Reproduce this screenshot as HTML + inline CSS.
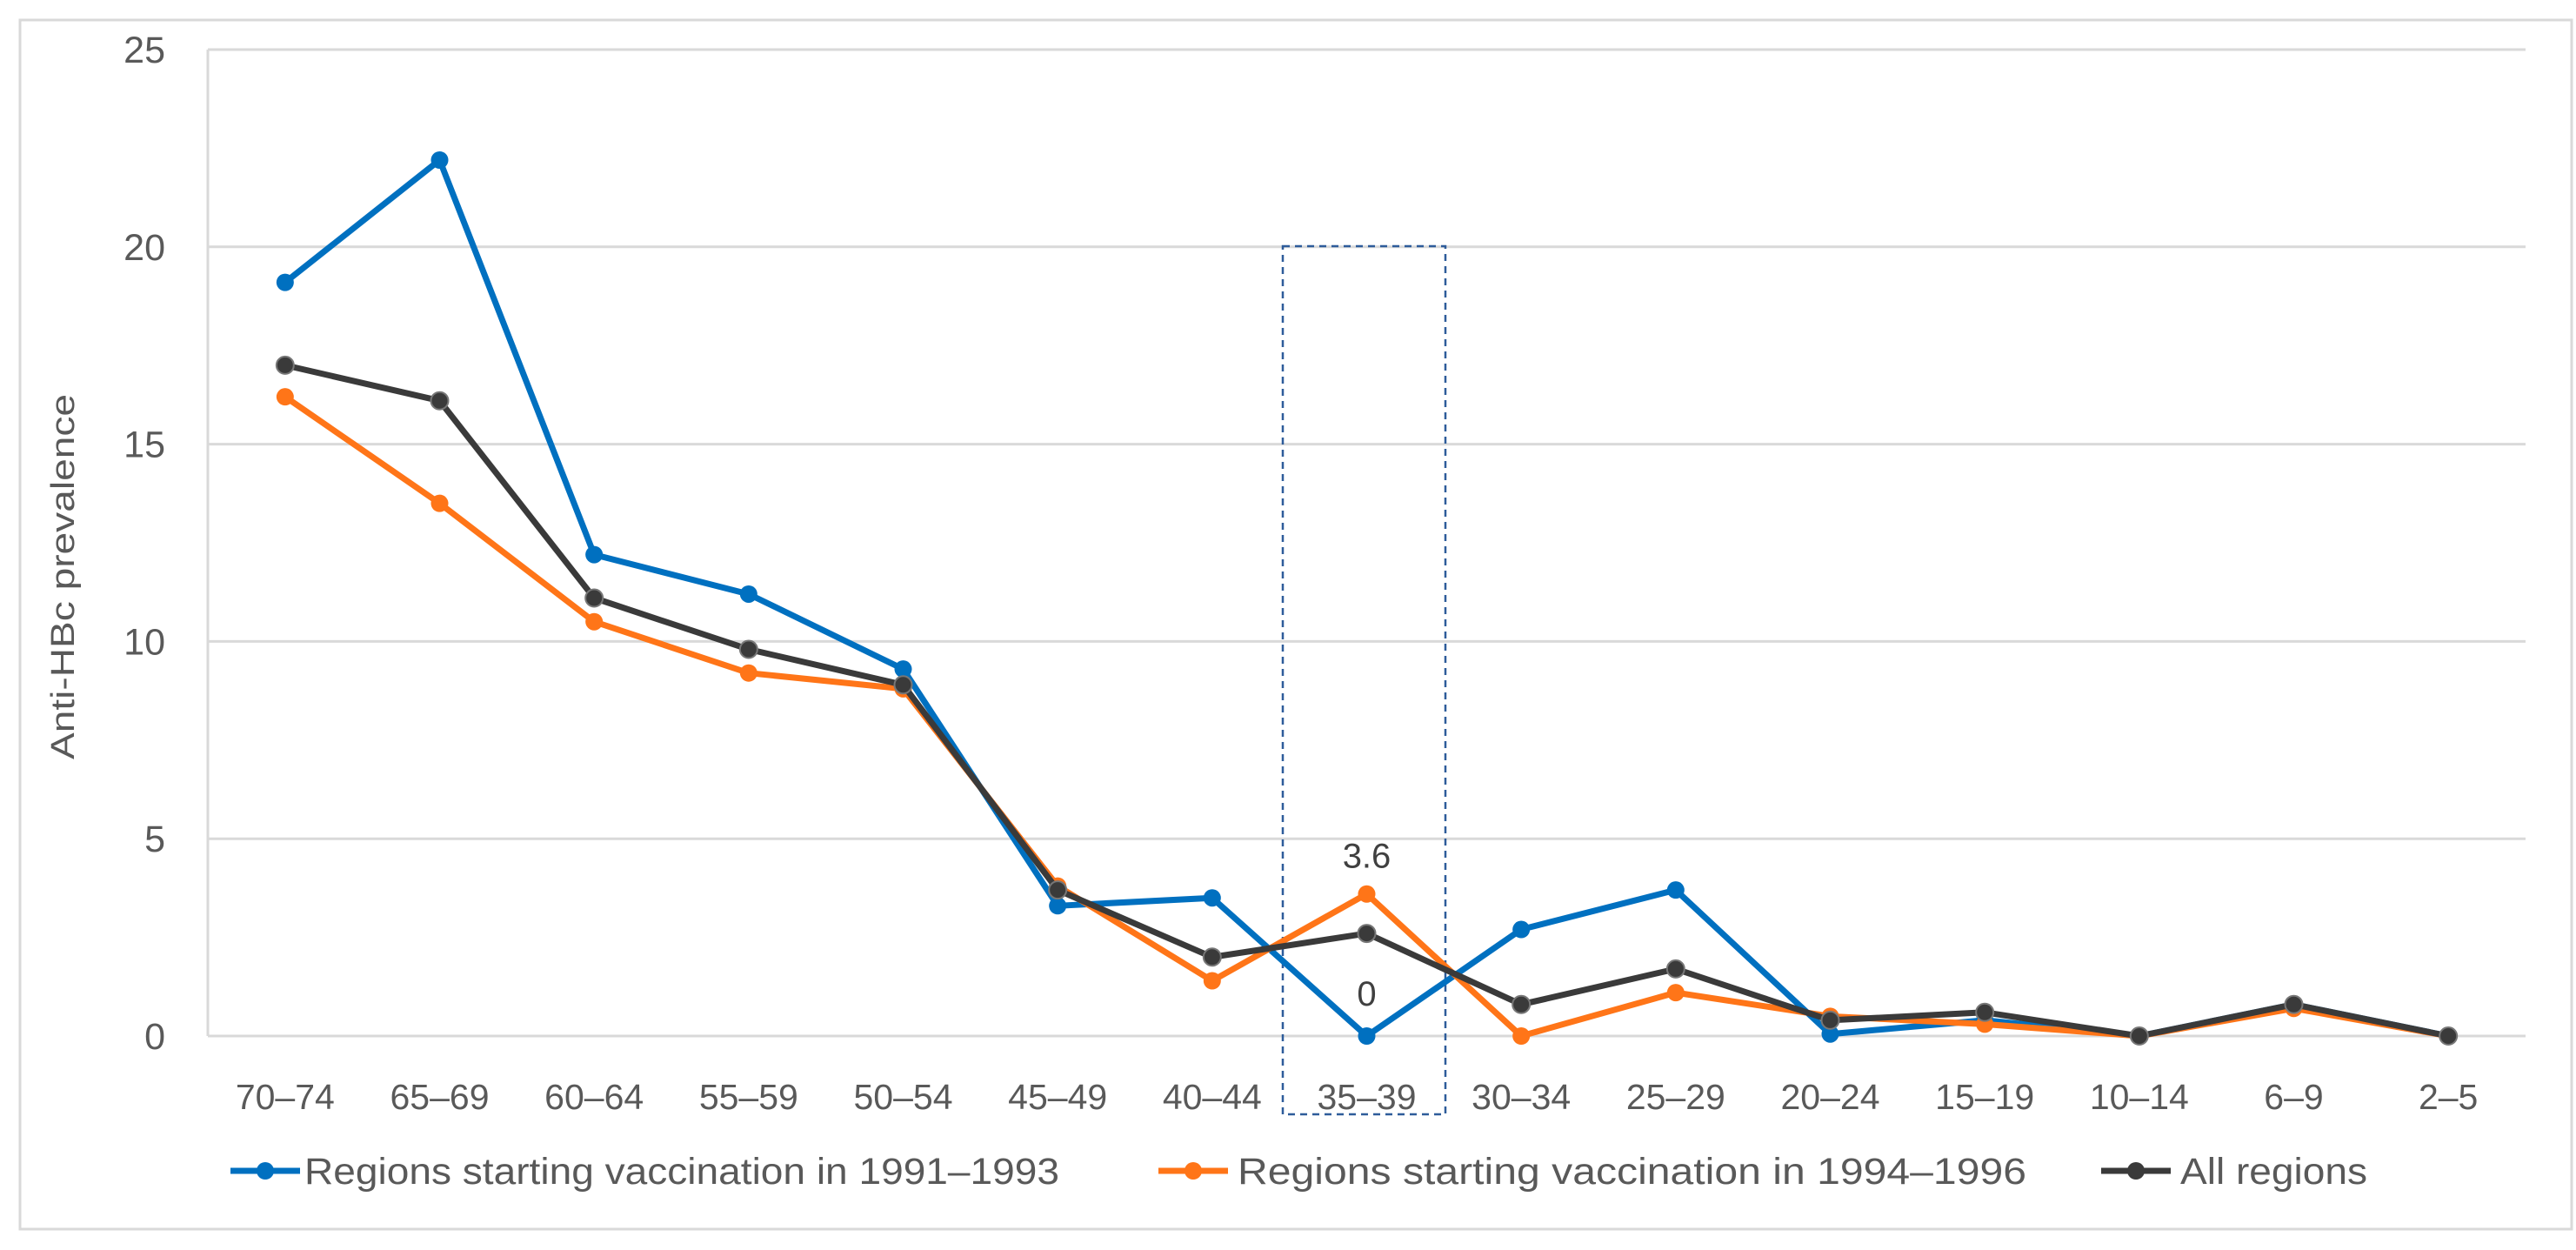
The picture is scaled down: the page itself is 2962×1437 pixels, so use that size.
<!DOCTYPE html>
<html><head><meta charset="utf-8"><style>
html,body{margin:0;padding:0;background:#fff;}
svg{display:block;font-family:"Liberation Sans",sans-serif;}
</style></head><body>
<svg id="chart" width="2962" height="1437" viewBox="0 0 2962 1437">
<rect x="23" y="23" width="2934" height="1390" fill="#fff" stroke="#d9d9d9" stroke-width="3"/>
<g id="grid"></g>
<g id="ylabels"></g>
<g id="xlabels"></g>
<rect x="1475" y="283" width="187" height="998" fill="none" stroke="#2e5c9a" stroke-width="2.5" stroke-dasharray="8,6"/>
<g id="series"></g>
<text x="85" y="663" transform="rotate(-90 85 663)" text-anchor="middle" font-size="38" fill="#595959" textLength="420" lengthAdjust="spacingAndGlyphs">Anti-HBc prevalence</text>
<g id="legend"></g>
</svg>
<script>
const categories = ["70–74","65–69","60–64","55–59","50–54","45–49","40–44","35–39","30–34","25–29","20–24","15–19","10–14","6–9","2–5"];
const blueValues = [19.1,22.2,12.2,11.2,9.3,3.3,3.5,0,2.7,3.7,0.05,0.4,0,0.8,0];
const orangeValues = [16.2,13.5,10.5,9.2,8.8,3.8,1.4,3.6,0,1.1,0.5,0.3,0,0.7,0];
const allValues = [17.0,16.1,11.1,9.8,8.9,3.7,2.0,2.6,0.8,1.7,0.4,0.6,0,0.8,0];
const yTicks = [0,5,10,15,20,25];
const seriesNames = ["Regions starting vaccination in 1991–1993","Regions starting vaccination in 1994–1996","All regions"];

const NS="http://www.w3.org/2000/svg";
const L=239,R=2904,T=57,B=1191,yMax=25;
const step=(R-L)/categories.length;
const xs=i=>L+step*(i+0.5);
const ys=v=>B-(v/yMax)*(B-T);
function mk(tag,attrs,parent){const e=document.createElementNS(NS,tag);for(const k in attrs)e.setAttribute(k,attrs[k]);parent.appendChild(e);return e;}
const grid=document.getElementById('grid'),yl=document.getElementById('ylabels'),xl=document.getElementById('xlabels');
mk('line',{x1:L,y1:T,x2:L,y2:B,stroke:'#d9d9d9','stroke-width':3},grid);
yTicks.forEach(t=>{
  const g=mk('line',{x1:L,y1:ys(t),x2:R,y2:ys(t),stroke:'#d9d9d9','stroke-width':3},grid);
  
  
  const tx=mk('text',{x:190,y:ys(t)+15,'text-anchor':'end','font-size':43,fill:'#595959'},yl);
  tx.textContent=t;
  
  
});
categories.forEach((c,i)=>{
  const tx=mk('text',{x:xs(i),y:1275,'text-anchor':'middle','font-size':41,fill:'#595959'},xl);
  tx.textContent=c;
  
  
});
const sg=document.getElementById('series');
const defs=[[blueValues,'#0070c0'],[orangeValues,'#ff7518'],[allValues,'#3a3a3a']];
const snames=['series-1991-1993','series-1994-1996','series-all-regions'];
defs.forEach(([vals,col],si)=>{
  const g=mk('g',{},sg);
  
  
  const pl=mk('polyline',{points:vals.map((v,i)=>xs(i)+','+ys(v)).join(' '),fill:'none',stroke:col,'stroke-width':7,'stroke-linejoin':'round'},g);
  
  
  vals.forEach((v,i)=>{
    const c=mk('circle',{cx:xs(i),cy:ys(v),r:10,fill:col,stroke:si==2?'#777':'none','stroke-width':2},g);
    
    
  });
});
const i35=categories.indexOf("35–39");
const l1=mk('text',{x:xs(i35),y:ys(orangeValues[i35])-30,'text-anchor':'middle','font-size':40,fill:'#404040'},sg);
l1.textContent=orangeValues[i35];


const l2=mk('text',{x:xs(i35),y:ys(blueValues[i35])-35,'text-anchor':'middle','font-size':40,fill:'#404040'},sg);
l2.textContent=blueValues[i35];


const lg=document.getElementById('legend');
const legX=[[265,350,868],[1332,1423,907],[2416,2507,215]];
seriesNames.forEach((n,i)=>{
  const g=mk('g',{},lg);
  
  
  const [x0,tx0,tw]=legX[i];
  const col=defs[i][1];
  mk('line',{x1:x0,y1:1346,x2:x0+80,y2:1346,stroke:col,'stroke-width':7},g);
  mk('circle',{cx:x0+40,cy:1346,r:10,fill:col},g);
  const t=mk('text',{x:tx0,y:1361,'font-size':43,fill:'#595959',textLength:tw,lengthAdjust:'spacingAndGlyphs'},g);
  t.textContent=n;
});
</script>
</body></html>
